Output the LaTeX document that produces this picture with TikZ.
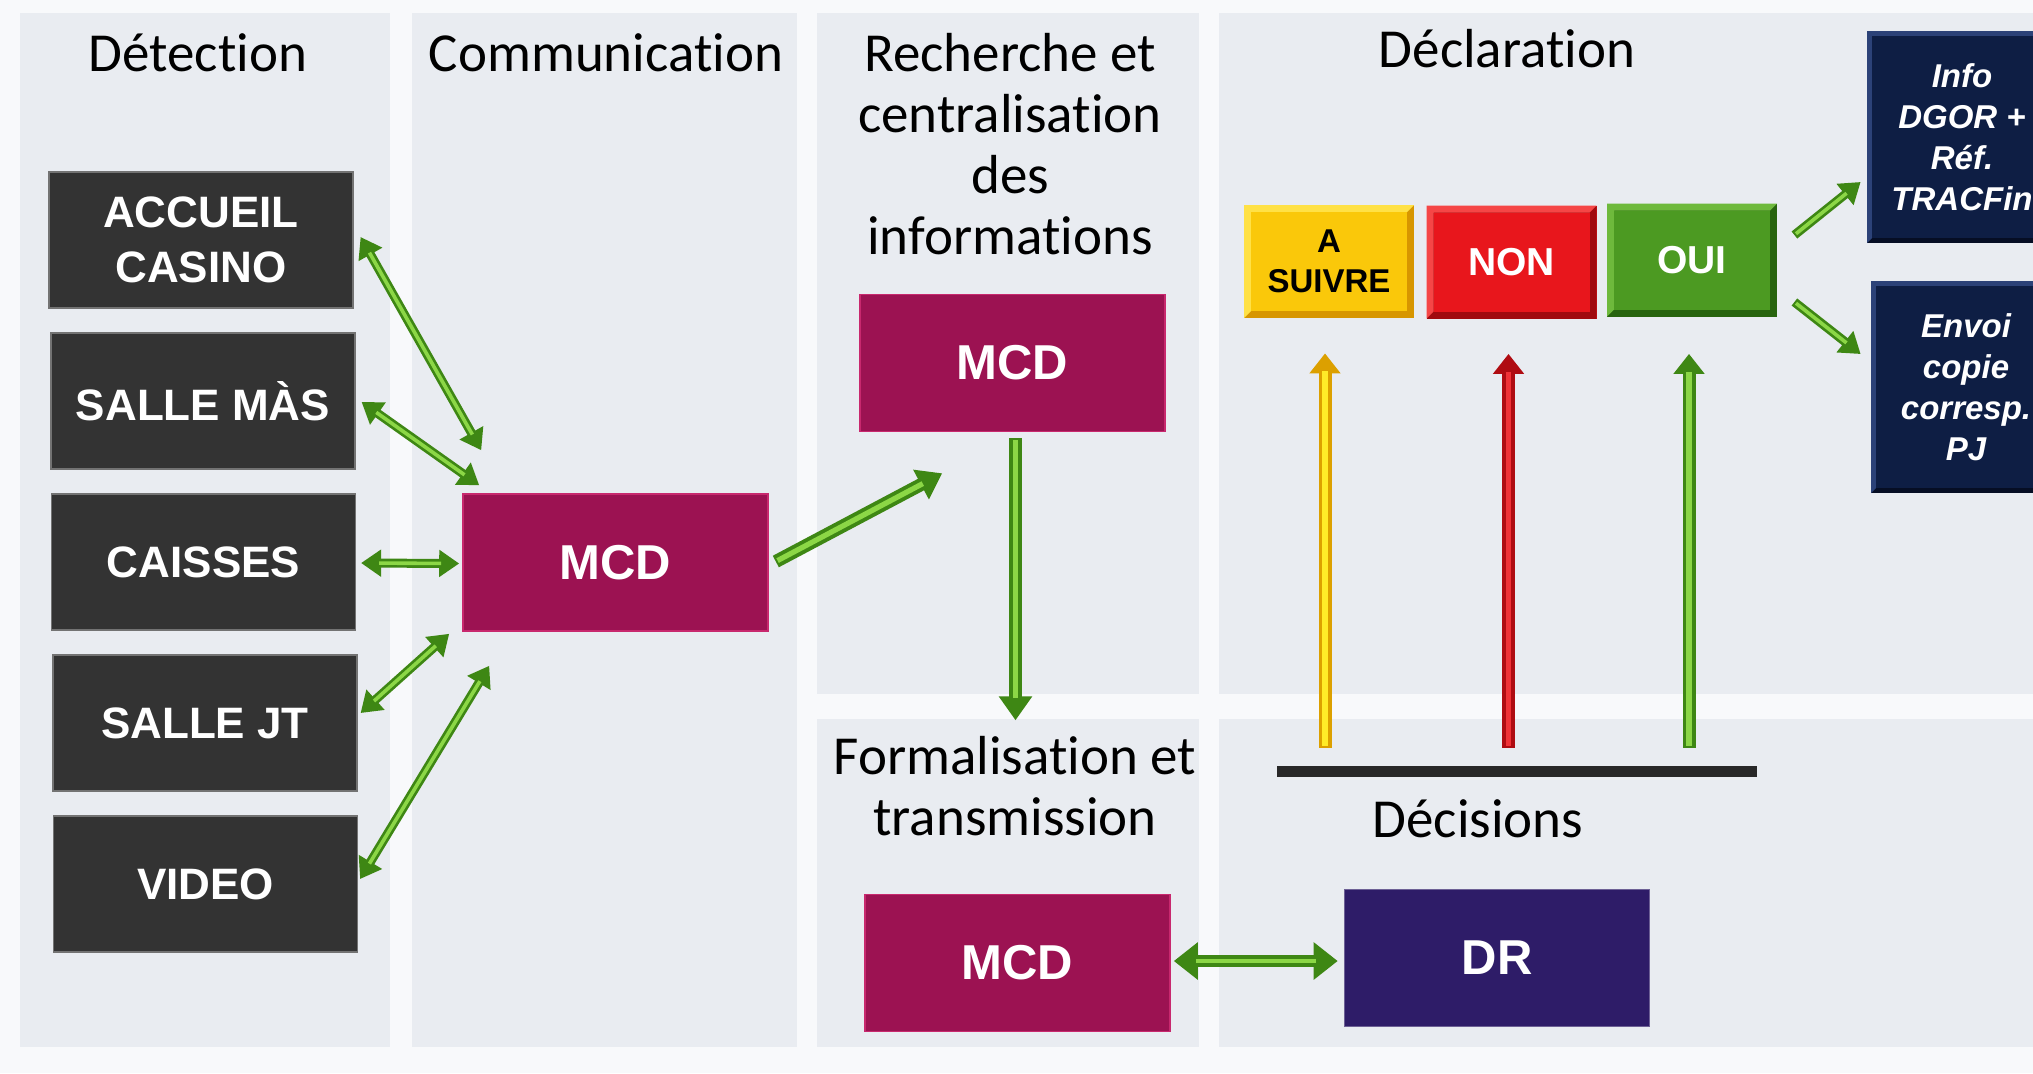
\documentclass[tikz,border=0pt]{standalone}
\usepackage{fontspec}
\setmainfont{Liberation Sans}
\newfontfamily\titlefont[Ligatures={NoCommon}]{Carlito}
\usetikzlibrary{arrows.meta,calc}
\definecolor{pagebg}{RGB}{248,249,251}
\definecolor{panelbg}{RGB}{233,236,241}
\definecolor{darkboxc}{RGB}{51,51,51}
\definecolor{mcdc}{RGB}{156,18,82}
\definecolor{mcdedge}{RGB}{200,40,110}
\definecolor{drc}{RGB}{46,28,104}
\definecolor{navy}{RGB}{14,30,68}
\definecolor{navyD}{RGB}{6,14,36}
\definecolor{navyL}{RGB}{44,66,120}
\definecolor{yelM}{RGB}{250,200,10}
\definecolor{yelD}{RGB}{215,150,0}
\definecolor{yelL}{RGB}{255,225,70}
\definecolor{redM}{RGB}{232,22,28}
\definecolor{redD}{RGB}{160,10,15}
\definecolor{redL}{RGB}{245,70,70}
\definecolor{grnM}{RGB}{76,154,34}
\definecolor{grnD}{RGB}{40,100,15}
\definecolor{grnL}{RGB}{110,185,60}
\definecolor{agD}{RGB}{62,135,20}
\definecolor{agL}{RGB}{140,215,70}
\definecolor{ayD}{RGB}{220,160,0}
\definecolor{ayL}{RGB}{255,235,40}
\definecolor{arD}{RGB}{175,12,18}
\definecolor{arL}{RGB}{240,50,55}
\definecolor{barc}{RGB}{40,40,40}
\begin{document}
\begin{tikzpicture}[x=0.5pt,y=-0.5pt,
  title/.style={font=\titlefont\fontsize{27.5}{32}\selectfont, inner sep=0pt, anchor=base, text=black},
  dbox/.style={fill=darkboxc, draw=black!55, line width=0.6pt, minimum width=152pt, minimum height=68pt,
    inner sep=0pt, text=white, align=center, font=\bfseries\fontsize{22}{27.5}\selectfont},
  mbox/.style={fill=mcdc, draw=mcdedge, line width=0.8pt, minimum width=152.5pt, minimum height=68.5pt,
    inner sep=0pt, text=white, font=\bfseries\fontsize{24.5}{29}\selectfont},
  bevel/.style n args={4}{fill=#1, path picture={
     \coordinate (bsw) at (path picture bounding box.south west);
     \coordinate (bne) at (path picture bounding box.north east);
     \fill[#2] (bsw) rectangle (bne);
     \fill[#3] (bsw) -- (bsw|-bne) -- (bne) -- ($(bne)+(-#4,#4)$) -- ($(bsw|-bne)+(#4,#4)$) -- ($(bsw)+(#4,-#4)$) -- cycle;
     \fill[#1] ($(bsw)+(#4,-#4)$) rectangle ($(bne)+(-#4,#4)$);
  }},
  btn/.style={minimum width=85pt, minimum height=56.5pt, inner sep=0pt, align=center},
  ibox/.style={bevel={navy}{navyD}{navyL}{5}, minimum width=95pt, minimum height=106pt, inner sep=0pt,
    text=white, align=center, font=\bfseries\itshape\fontsize{16.5}{20.5}\selectfont},
  larr/.style={draw=agD, line width=4.5pt, {Triangle[length=10pt,width=13pt]}-{Triangle[length=10pt,width=13pt]},
    postaction={draw=agL, line width=1.8pt, arrows=-, shorten <=9pt, shorten >=9pt}},
  barr/.style={draw=agD, line width=6pt, {Triangle[length=12pt,width=18pt]}-{Triangle[length=12pt,width=18pt]},
    postaction={draw=agL, line width=2.4pt, arrows=-, shorten <=11pt, shorten >=11pt}},
  sarr/.style={draw=agD, line width=6.5pt, -{Triangle[length=12pt,width=16pt]},
    postaction={draw=agL, line width=2.6pt, arrows=-, shorten <=1pt, shorten >=11pt}},
  tarr/.style={draw=agD, line width=4.5pt, -{Triangle[length=10pt,width=13pt]},
    postaction={draw=agL, line width=1.8pt, arrows=-, shorten <=1pt, shorten >=9pt}},
  varr/.style 2 args={draw=#1, line width=6.5pt, -{Triangle[length=10pt,width=15pt]},
    postaction={draw=#2, line width=2.8pt, arrows=-, shorten <=1pt, shorten >=9pt}}
]
\useasboundingbox (0,0) rectangle (2033,1073);
\fill[pagebg] (0,0) rectangle (2033,1073);
% panels
\fill[panelbg] (20,13) rectangle (390,1047);
\fill[panelbg] (412,13) rectangle (797,1047);
\fill[panelbg] (817,13) rectangle (1199,694);
\fill[panelbg] (817,719) rectangle (1199,1047);
\fill[panelbg] (1219,13) rectangle (2033,694);
\fill[panelbg] (1219,719) rectangle (2033,1047);

% titles
\node[title] (tdet) at (198,71) {Détection};
\node[title] (tcom) at (606,71) {Communication};
\node[title] (trec1) at (1010,71) {Recherche et};
\node[title] (trec2) at (1010,132) {centralisation};
\node[title] (trec3) at (1010,193) {des};
\node[title] (trec4) at (1010,254) {informations};
\node[title] (tdecl) at (1507,67) {Déclaration};
\node[title] (tform1) at (1015,774) {Formalisation et};
\node[title] (tform2) at (1015,835) {transmission};
\node[title] (tdeci) at (1478,837) {Décisions};

% detection boxes
\node[dbox] (acc) at (201,240) {ACCUEIL\\CASINO};
\node[dbox] (mas) at (203,401) {SALLE MÀS};
\node[dbox] (cai) at (203.5,562) {CAISSES};
\node[dbox] (jt)  at (205,723) {SALLE JT};
\node[dbox] (vid) at (205.5,884) {VIDEO};

% MCD and DR
\node[mbox] (mcd1) at (615.5,562.5) {MCD};
\node[mbox] (mcd2) at (1012.5,363) {MCD};
\node[mbox] (mcd3) at (1017.5,963) {MCD};
\node[mbox, fill=drc, draw=drc!70!white] (dr) at (1497,958) {DR};

% decision buttons
\node[btn, bevel={yelM}{yelD}{yelL}{7}, text=black, font=\bfseries\fontsize{16.5}{20}\selectfont] (asuivre) at (1329,261.5) {A\\SUIVRE};
\node[btn, bevel={redM}{redD}{redL}{7}, text=white, font=\bfseries\fontsize{19.5}{22}\selectfont] (non) at (1511.5,262) {NON};
\node[btn, bevel={grnM}{grnD}{grnL}{7}, text=white, font=\bfseries\fontsize{19.5}{22}\selectfont] (oui) at (1692,260) {OUI};

% info boxes
\node[ibox] (info) at (1962,137) {Info\\DGOR +\\Réf.\\TRACFin};
\node[ibox] (envoi) at (1966,387) {Envoi\\copie\\corresp.\\PJ};

% decision bar
\node[fill=barc, minimum width=240pt, minimum height=5.5pt, inner sep=0pt] (bar) at (1517,771.5) {};

% connectors
\draw[larr] ($(acc.east)+(7,-3)$) -- ($(mcd1.north west)+(19,-43)$);
\draw[larr] ($(mas.east)+(6,1)$) -- ($(mcd1.north west)+(17,-8)$);
\draw[larr] ($(cai.east)+(5,1)$) -- ($(mcd1.west)+(-3,1)$);
\draw[larr] ($(jt.east)+(3,-10)$) -- ($(mcd1.south west)+(-13,2)$);
\draw[larr] ($(vid.east)+(2,-5)$) -- ($(mcd1.south west)+(27,34)$);

\draw[sarr] ($(mcd1.east)+(7,-1)$) -- ($(mcd2.south west)+(83,41)$);
\draw[sarr] ($(mcd2.south)+(3,6)$) -- ($(mcd2.south)+(3,288)$);
\draw[barr] ($(mcd3.east)+(3,-2)$) -- ($(dr.west)+(-6,3)$);

\draw[varr={ayD}{ayL}] ($(asuivre.south |- bar.north)+(-4,-18)$) -- ($(asuivre.south)+(-4,35)$);
\draw[varr={arD}{arL}] ($(non.south |- bar.north)+(-3,-18)$) -- ($(non.south)+(-3,35)$);
\draw[varr={agD}{agL}] ($(oui.south |- bar.north)+(-3,-18)$) -- ($(oui.south)+(-3,37)$);

\draw[tarr] ($(oui.east)+(17,-25)$) -- ($(info.west)+(-6,45)$);
\draw[tarr] ($(oui.east)+(17,42)$) -- ($(envoi.west)+(-10,-33)$);
\end{tikzpicture}
\end{document}
